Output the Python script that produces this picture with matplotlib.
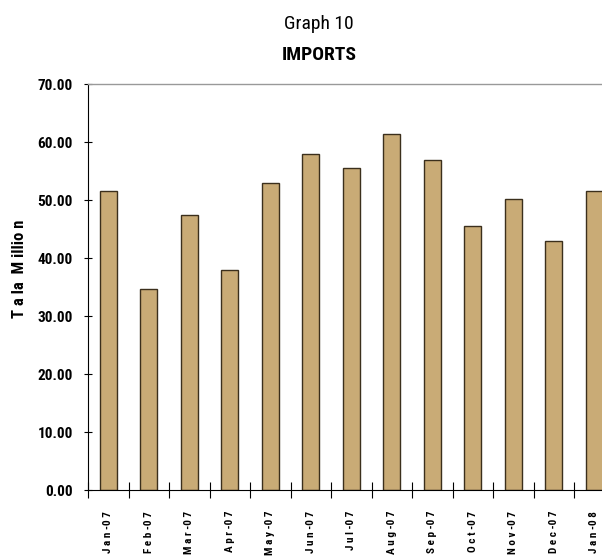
import matplotlib
matplotlib.use("Agg")
import matplotlib.pyplot as plt
import numpy as np
from matplotlib import font_manager

months = ["Jan-07", "Feb-07", "Mar-07", "Apr-07", "May-07", "Jun-07", "Jul-07",
          "Aug-07", "Sep-07", "Oct-07", "Nov-07", "Dec-07", "Jan-08"]
imports = [51.5, 34.6, 47.5, 37.9, 53.0, 57.9, 55.6, 61.4, 56.9, 45.6, 50.2, 43.0, 51.6]
yticks = [0, 10, 20, 30, 40, 50, 60, 70]

names = {f.name for f in font_manager.fontManager.ttflist}
narrow = "DejaVu Sans"
for cand in ["Liberation Sans Narrow", "Arial Narrow", "Nimbus Sans Narrow",
             "Roboto Condensed", "Asap Condensed", "Barlow Semi Condensed"]:
    if cand in names:
        narrow = cand
        break
plt.rcParams['font.family'] = [narrow, "DejaVu Sans"]


def spaced(s):
    out = ""
    for i, ch in enumerate(s):
        out += ch
        if i < len(s) - 1 and ch != "-":
            out += " "
    return out


W, H = 602, 558
fig = plt.figure(figsize=(W / 100, H / 100), dpi=100)
left, right, top, bottom = 88, 88 + 13 * 40.5, 84, 490
ax = fig.add_axes([left / W, 1 - bottom / H, (right - left) / W, (bottom - top) / H])

x = np.arange(len(months))
ax.bar(x, imports, width=0.42, color="#C9AB76", edgecolor="#3b2f1c", linewidth=1.0, zorder=2)

ax.set_xlim(-0.5, len(months) - 0.5)
ax.set_ylim(0, 70)
ax.set_yticks(yticks)
ax.set_yticklabels([f"{v:.2f}" for v in yticks], fontsize=11, fontweight="bold")
ax.tick_params(axis="y", direction="inout", length=6, width=0.8, pad=8)

ax.set_xticks(np.arange(-0.5, len(months), 1.0))
ax.set_xticklabels([])
ax.set_xticks(x, minor=True)
ax.set_xticklabels([spaced(m) for m in months], minor=True, rotation=90,
                   fontsize=8, fontweight="bold", va="top")
ax.tick_params(axis="x", which="major", direction="inout", length=11, width=0.8)
ax.tick_params(axis="x", which="minor", length=0, pad=15)

ax.spines["right"].set_visible(False)
ax.spines["top"].set_color("#999999")
ax.spines["top"].set_linewidth(1.0)
ax.spines["left"].set_color("black")
ax.spines["bottom"].set_color("black")

ax.set_ylabel("T a la  M illio n", fontsize=12, fontweight="bold")
ax.yaxis.set_label_coords((27 - left) / (right - left), (bottom - 269) / (bottom - top))

fig.text(319 / W, 1 - 29 / H, "Graph 10", ha="center", va="baseline", fontsize=14)
fig.text(319 / W, 1 - 60 / H, "IMPORTS", ha="center", va="baseline", fontsize=14, fontweight="bold")

fig.savefig("out.png", dpi=100)
